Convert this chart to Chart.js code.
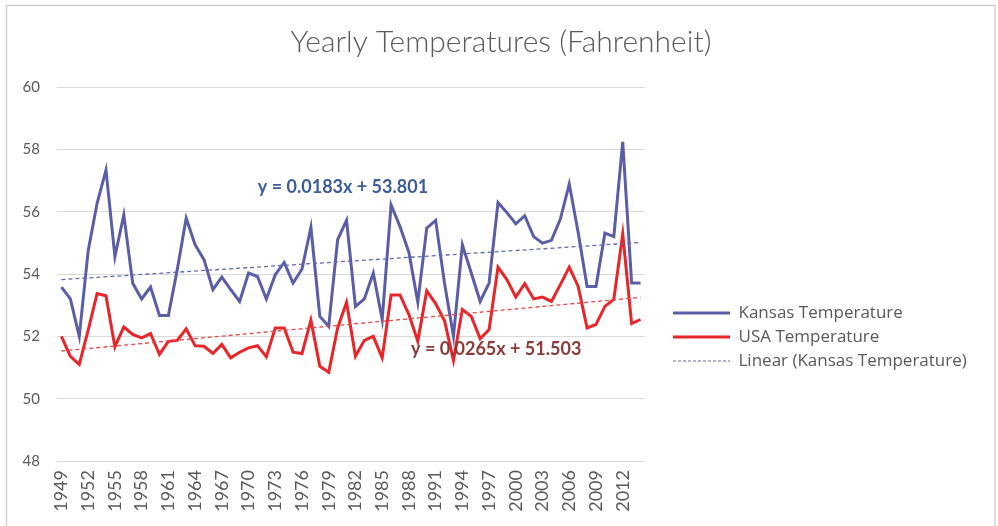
<!DOCTYPE html>
<html>
<head>
<meta charset="utf-8">
<script src="https://cdn.jsdelivr.net/npm/chart.js@4/dist/chart.umd.min.js"></script>
<style>
  html, body { margin: 0; padding: 0; background: #ffffff; }
  #wrap { width: 998px; height: 526px; position: relative; }
</style>
</head>
<body>
<div id="wrap"><canvas id="c" width="998" height="526"></canvas></div>
<script>
// ---- data ----
const years = [
  '1949','1950','1951','1952','1953','1954','1955','1956','1957','1958',
  '1959','1960','1961','1962','1963','1964','1965','1966','1967','1968',
  '1969','1970','1971','1972','1973','1974','1975','1976','1977','1978',
  '1979','1980','1981','1982','1983','1984','1985','1986','1987','1988',
  '1989','1990','1991','1992','1993','1994','1995','1996','1997','1998',
  '1999','2000','2001','2002','2003','2004','2005','2006','2007','2008',
  '2009','2010','2011','2012','2013','2014'
];
const kansasTemps = [
  53.58, 53.20, 52.00, 54.75, 56.27, 57.34, 54.56, 55.90, 53.70, 53.20,
  53.58, 52.67, 52.67, 54.14, 55.79, 54.94, 54.46, 53.50, 53.90, 53.50,
  53.12, 54.03, 53.92, 53.20, 53.98, 54.37, 53.71, 54.16, 55.50, 52.64,
  52.32, 55.10, 55.72, 52.96, 53.20, 54.03, 52.54, 56.22, 55.52, 54.69,
  53.09, 55.47, 55.72, 53.70, 52.00, 54.94, 54.03, 53.12, 53.71, 56.29,
  55.97, 55.61, 55.87, 55.20, 54.99, 55.08, 55.76, 56.89, 55.33, 53.60,
  53.60, 55.31, 55.20, 58.24, 53.71, 53.71
];
const usaTemps = [
  52.00, 51.36, 51.10, 52.20, 53.37, 53.30, 51.66, 52.30, 52.06, 51.95,
  52.09, 51.42, 51.84, 51.87, 52.24, 51.70, 51.68, 51.45, 51.74, 51.31,
  51.49, 51.63, 51.70, 51.34, 52.27, 52.27, 51.49, 51.45, 52.52, 51.04,
  50.85, 52.27, 53.09, 51.36, 51.87, 52.00, 51.31, 53.33, 53.33, 52.70,
  51.84, 53.46, 53.05, 52.50, 51.23, 52.86, 52.64, 51.92, 52.22, 54.22,
  53.82, 53.26, 53.69, 53.20, 53.26, 53.12, 53.66, 54.22, 53.60, 52.27,
  52.38, 52.96, 53.18, 55.29, 52.41, 52.54
];
// trend line end values (first year, last year)
const kansasTrendEnds = [53.82, 55.01];
const usaTrendEnds = [51.53, 53.25];
const yTicks = [48, 50, 52, 54, 56, 58, 60];
const seriesNames = ['Kansas Temperature', 'USA Temperature', 'Linear (Kansas Temperature)', 'Linear (USA Temperature)'];
const equationTexts = ['y = 0.0183x + 53.801', 'y = 0.0265x + 51.503'];

// ---- build helpers ----
function trendSeries(ends) {
  return years.map((_, i) => i === 0 ? ends[0] : (i === years.length - 1 ? ends[1] : null));
}

const FONT = 'Lato, "Open Sans", "Liberation Sans", sans-serif';
const LEGEND_FONT = '"Open Sans", Lato, "Liberation Sans", sans-serif';
const KANSAS_COLOR = '#5B5EA6';
const USA_COLOR = '#E8262A';

const framePlugin = {
  id: 'frame',
  beforeDraw(chart) {
    const ctx = chart.ctx;
    ctx.save();
    ctx.fillStyle = '#ffffff';
    ctx.fillRect(0, 0, chart.width, chart.height);
    ctx.strokeStyle = '#D0D0D0';
    ctx.lineWidth = 1.5;
    ctx.strokeRect(6.5, 5.5, chart.width - 9.5, chart.height + 20);
    ctx.restore();
  }
};

const boxPlacePlugin = {
  id: 'boxPlace',
  afterLayout(chart) {
    const lg = chart.legend;
    if (lg) {
      lg.left = 666;
      lg.right = 998;
      lg.top = 297.5;
      lg.bottom = 470;
      lg.width = lg.right - lg.left;
      lg.height = lg.bottom - lg.top;
    }
    const tb = chart.titleBlock;
    if (tb) {
      tb.left = 4;
      tb.right = 998;
      tb.width = tb.right - tb.left;
    }
  }
};

const equationPlugin = {
  id: 'equations',
  afterDatasetsDraw(chart, args, opts) {
    const ctx = chart.ctx;
    const xs = chart.scales.x, ys = chart.scales.y;
    ctx.save();
    ctx.font = 'bold 18px ' + FONT;
    ctx.textAlign = 'center';
    ctx.textBaseline = 'middle';
    opts.items.forEach(it => {
      ctx.fillStyle = it.color;
      ctx.fillText(it.text, xs.getPixelForValue(it.index), ys.getPixelForValue(it.value));
    });
    ctx.restore();
  }
};

const ctx = document.getElementById('c').getContext('2d');
new Chart(ctx, {
  type: 'line',
  data: {
    labels: years,
    datasets: [
      { label: seriesNames[0], data: kansasTemps, borderColor: KANSAS_COLOR, backgroundColor: KANSAS_COLOR,
        borderWidth: 3, pointRadius: 0, tension: 0, order: 4 },
      { label: seriesNames[1], data: usaTemps, borderColor: USA_COLOR, backgroundColor: USA_COLOR,
        borderWidth: 3, pointRadius: 0, tension: 0, order: 3 },
      { label: seriesNames[2], data: trendSeries(kansasTrendEnds), borderColor: '#6467AE', backgroundColor: '#6467AE',
        borderWidth: 1.3, borderDash: [4, 3], pointRadius: 0, spanGaps: true, order: 2 },
      { label: seriesNames[3], data: trendSeries(usaTrendEnds), borderColor: '#E8474A', backgroundColor: '#E8474A',
        borderWidth: 1.3, borderDash: [4, 3], pointRadius: 0, spanGaps: true, order: 1 }
    ]
  },
  options: {
    responsive: false,
    animation: false,
    devicePixelRatio: 1,
    layout: { padding: { top: 10, left: 10, right: 73, bottom: 8 } },
    plugins: {
      title: {
        display: true,
        text: 'Yearly Temperatures (Fahrenheit)',
        color: '#595959',
        font: { family: FONT, size: 30, weight: 300 },
        padding: { top: 14, bottom: 27 }
      },
      legend: {
        display: true,
        position: 'right',
        align: 'start',
        maxWidth: 280,
        labels: {
          color: '#595959',
          font: { family: LEGEND_FONT, size: 17 },
          usePointStyle: true,
          pointStyleWidth: 57,
          padding: 7,
          filter: (item) => item.datasetIndex !== 3,
          sort: (a, b) => a.datasetIndex - b.datasetIndex,
          generateLabels: (chart) => {
            const items = Chart.defaults.plugins.legend.labels.generateLabels(chart);
            items.forEach(it => {
              it.pointStyle = 'line';
              if (it.datasetIndex >= 2) { it.lineDash = [3, 2]; it.lineWidth = 1.2; }
            });
            return items;
          }
        }
      },
      tooltip: { enabled: false },
      equations: {
        items: [
          { text: equationTexts[0], index: 31.6, value: 56.8, color: '#3B5C99' },
          { text: equationTexts[1], index: 48.8, value: 51.59, color: '#8B3A3A' }
        ]
      }
    },
    scales: {
      x: {
        type: 'category',
        offset: true,
        grid: { display: false, drawTicks: false },
        border: { display: false },
        ticks: {
          autoSkip: false,
          minRotation: 90,
          maxRotation: 90,
          padding: 9,
          color: '#595959',
          font: { family: FONT, size: 18 },
          callback: function(value, index) { return index % 3 === 0 ? this.getLabelForValue(value) : null; }
        },
        afterFit: (scale) => { scale.height = 57; }
      },
      y: {
        min: 48,
        max: 60,
        grid: { color: '#D9D9D9', lineWidth: 1, drawTicks: false },
        border: { display: false },
        afterBuildTicks: (scale) => { scale.ticks = yTicks.map(v => ({ value: v })); },
        ticks: {
          padding: 17,
          color: '#595959',
          font: { family: FONT, size: 15 }
        },
        afterFit: (scale) => { scale.width = 47; }
      }
    }
  },
  plugins: [framePlugin, boxPlacePlugin, equationPlugin]
});
</script>
</body>
</html>
